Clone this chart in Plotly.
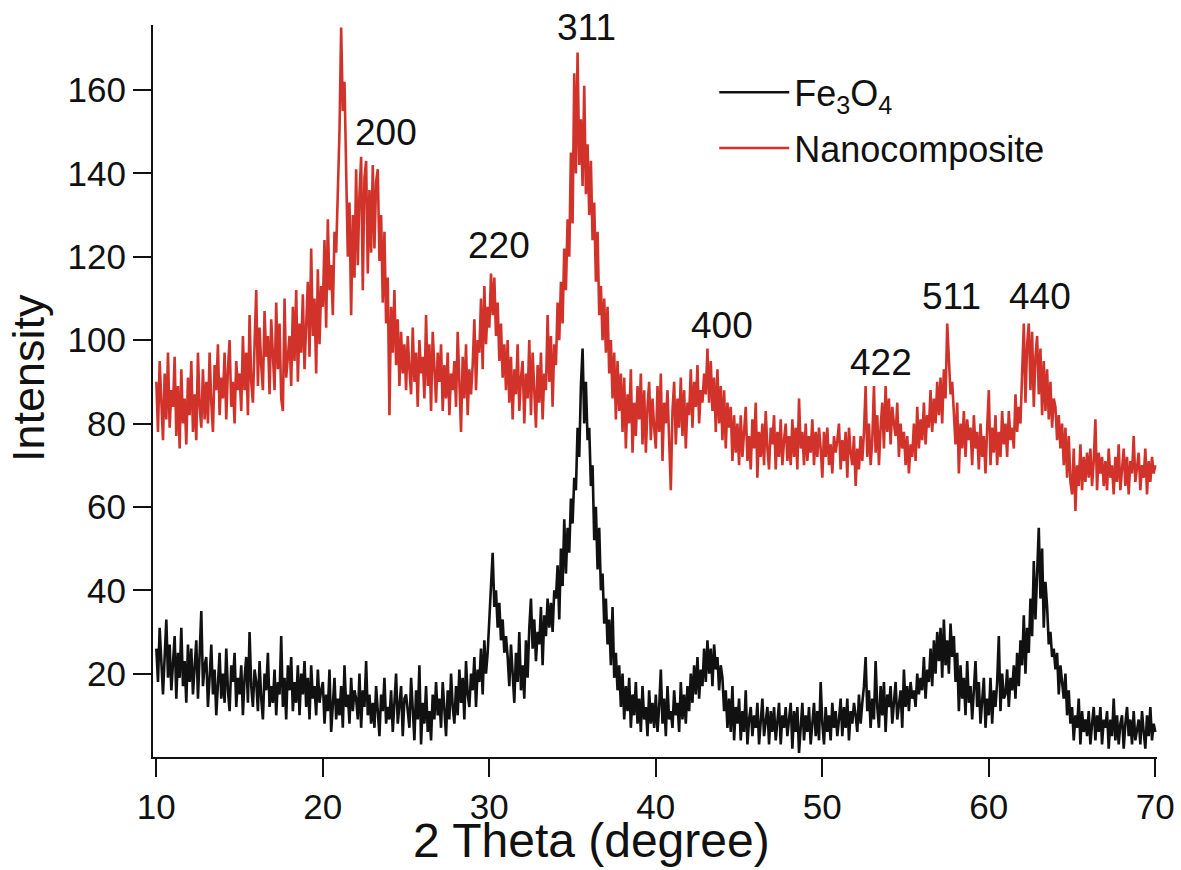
import numpy as np
import plotly.graph_objects as go

# 2-theta grid (degrees), 0.1 degree step from 10 to 70
two_theta = np.round(np.arange(100, 701) / 10.0, 1)

fe3o4 = [
    26,18,31,21,15,24,33,19,27,16,
    22,29,14,25,19,31,17,23,13,27,
    18,26,15,21,28,14,23,35,17,22,
    24,12,19,27,15,21,10,18,25,14,
    20,13,26,16,11,22,18,25,12,19,
    15,22,10,19,24,13,30,17,12,21,
    18,11,23,14,9,20,16,25,12,17,
    13,21,10,18,15,29,12,19,9,22,
    16,24,11,18,13,22,10,20,15,23,
    12,19,9,22,14,17,10,21,13,16,
    18,8,15,11,21,6,13,19,9,14,
    10,17,7,22,12,15,8,19,11,16,
    14,9,20,7,16,12,23,10,15,8,
    13,7,17,10,5,15,11,19,8,12,
    9,16,6,13,20,8,12,17,5,14,
    15,10,7,19,12,4,16,9,22,3,
    13,8,17,6,11,4,15,9,18,10,
    14,7,18,11,5,16,9,20,12,8,
    17,10,21,13,19,9,23,15,12,20,
    16,24,12,21,18,26,15,28,20,25,
    33,42,49,36,40,31,37,28,33,25,
    29,24,17,27,20,13,25,18,30,16,
    22,14,28,19,31,38,26,33,23,30,
    27,36,22,34,29,38,31,37,30,40,
    38,46,33,50,41,57,44,55,49,62,
    56,67,64,79,72,89,98,80,90,76,
    79,65,70,52,60,45,55,40,44,32,
    38,27,33,22,36,19,25,16,22,12,
    20,9,17,11,19,7,15,10,18,8,
    14,6,17,9,12,5,16,8,13,7,
    15,6,12,21,8,14,5,17,9,11,
    7,16,10,13,6,18,9,15,8,17,
    11,20,13,22,15,24,14,21,17,26,
    18,28,20,26,17,27,21,24,16,22,
    19,11,16,7,14,6,17,4,12,8,
    14,4,11,6,16,3,9,12,5,10,
    7,13,3,10,14,5,8,12,3,11,
    6,12,4,9,13,3,10,7,12,5,
    9,13,2,11,6,12,1,8,13,4,
    10,6,12,3,9,13,5,11,4,18,
    8,3,12,6,10,4,13,7,11,5,
    9,14,5,12,7,14,4,11,8,13,
    10,6,15,8,13,17,24,11,16,7,
    14,9,23,12,7,17,10,18,6,15,
    12,17,8,14,18,9,13,16,7,21,
    12,17,11,18,14,16,12,20,15,19,
    16,24,14,21,18,26,17,28,20,30,
    23,31,19,33,22,28,20,32,24,29,
    18,25,11,22,14,19,10,23,13,17,
    9,16,23,12,18,8,15,19,7,14,
    10,19,8,16,12,18,29,11,20,14,
    15,21,12,19,16,22,14,25,17,28,
    22,34,20,31,25,38,29,47,33,44,
    55,38,50,31,42,36,27,30,24,26,
    21,25,15,22,18,14,20,10,16,8,
    12,4,10,7,14,3,11,6,9,5,
    11,3,8,12,4,10,6,12,3,9,
    7,11,2,9,5,14,4,10,3,8,
    10,2,8,12,5,9,3,11,4,7,
    9,3,11,6,2,10,5,12,4,8,
    6,
]

nanocomposite = [
    90,78,95,83,76,92,81,97,79,88,
    84,96,77,89,74,93,80,86,75,91,
    82,95,78,87,76,97,84,79,93,81,
    90,80,97,85,78,94,88,99,82,91,
    86,97,81,93,100,84,90,80,95,88,
    92,83,101,88,97,82,106,90,85,99,
    112,89,103,94,88,107,96,101,87,105,
    98,88,109,93,104,86,83,110,91,97,
    101,89,108,95,112,90,104,97,111,93,
    105,114,96,122,101,110,92,117,99,113,
    108,124,103,129,112,118,106,126,121,133,
    150,175,155,162,137,120,133,106,130,115,
    141,118,135,144,112,139,143,116,136,121,
    142,122,138,141,119,130,109,126,104,115,
    82,108,97,112,94,105,89,102,92,99,
    88,101,93,87,103,90,97,84,100,92,
    96,86,106,89,99,83,102,91,85,97,
    90,99,83,94,86,97,82,92,88,95,
    84,102,89,78,96,86,99,82,93,87,
    94,105,88,100,97,110,93,113,99,108,
    103,116,106,115,101,109,95,104,91,99,
    88,100,85,96,81,93,87,99,83,91,
    95,80,92,86,100,82,97,88,79,94,
    85,97,81,92,88,106,90,101,84,99,
    94,109,100,114,104,122,112,129,120,145,
    128,164,140,169,142,153,137,161,135,147,
    130,143,124,133,114,126,106,113,100,110,
    97,108,92,100,86,97,81,95,83,92,
    78,91,74,87,80,93,73,85,77,89,
    81,92,75,88,73,84,90,76,86,79,
    74,89,78,92,71,85,80,88,73,64,
    83,90,75,86,79,91,77,88,74,85,
    82,93,79,90,84,94,80,88,85,92,
    87,98,85,95,83,91,78,93,80,89,
    76,88,74,85,79,84,71,82,73,80,
    70,82,72,79,84,71,77,69,81,74,
    85,67,78,72,80,70,83,74,69,79,
    75,82,69,78,72,81,70,76,80,71,
    77,70,81,72,79,69,86,74,78,70,
    80,71,77,73,81,70,78,72,79,74,
    67,78,72,79,70,75,68,77,73,76,
    80,69,76,71,78,67,79,73,70,77,
    65,74,69,77,71,78,89,72,80,70,
    76,89,73,82,70,79,85,74,89,78,
    86,75,84,80,77,85,72,80,74,78,
    70,77,68,75,72,80,71,84,74,81,
    76,85,75,82,79,88,78,86,80,90,
    82,91,80,93,86,104,95,87,90,83,
    75,85,68,80,74,83,72,81,76,79,
    70,82,74,78,69,80,72,77,68,79,
    88,70,79,73,82,70,78,72,83,75,
    80,72,83,76,79,74,87,78,84,80,
    93,104,85,99,104,88,102,84,96,101,
    87,98,82,95,83,93,81,90,79,86,
    84,76,82,74,80,70,79,67,77,66,
    63,74,59,70,65,75,64,72,66,73,
    67,74,65,71,81,64,73,68,72,65,
    71,64,74,67,70,63,72,66,75,64,
    69,74,65,72,63,71,68,77,66,70,
    73,64,70,67,74,63,71,66,72,68,
    70,
]

assert len(fe3o4) == len(two_theta) == len(nanocomposite)

# Miller index labels and their anchor positions (2-theta, intensity)
peak_labels = ["200", "220", "311", "400", "422", "511", "440"]
peak_x = [23.8, 30.6, 35.85, 44.0, 53.55, 57.75, 63.1]
peak_y = [149.7, 122.8, 175.0, 103.6, 94.6, 110.4, 110.4]

series_names = ["Fe<sub>3</sub>O<sub>4</sub>", "Nanocomposite"]
series_colors = ["#111111", "#d1332a"]

x_title = "2 Theta (degree)"
y_title = "Intensity"

FONT = "Liberation Sans, Arial, Helvetica, sans-serif"

fig = go.Figure()
for name, ys, col in zip(series_names, [fe3o4, nanocomposite], series_colors):
    fig.add_trace(go.Scatter(
        x=two_theta, y=ys, mode="lines", name=name,
        line=dict(color=col, width=2.6),
        legendgroup=name,
    ))

for lab, px, py in zip(peak_labels, peak_x, peak_y):
    fig.add_annotation(x=px, y=py, text=lab, showarrow=False,
                       font=dict(size=37, color="#111111", family=FONT),
                       xanchor="center", yanchor="middle")

# axis titles (placed as in the reference, off-centre)
fig.add_annotation(x=0.4363, y=-0.1145, xref="paper", yref="paper",
                   text=x_title, showarrow=False,
                   font=dict(size=48, color="#111111", family=FONT),
                   xanchor="center", yanchor="middle")
fig.add_annotation(x=-0.1235, y=0.5178, xref="paper", yref="paper",
                   text=y_title, showarrow=False, textangle=-90,
                   font=dict(size=45, color="#111111", family=FONT),
                   xanchor="center", yanchor="middle")

fig.update_layout(
    width=1181, height=870,
    paper_bgcolor="white", plot_bgcolor="white",
    margin=dict(l=153, r=24, t=25, b=113),
    font=dict(family=FONT, color="#111111"),
    showlegend=True,
    legend=dict(
        x=0.559, y=0.949, xanchor="left", yanchor="top",
        bgcolor="rgba(0,0,0,0)", borderwidth=0,
        font=dict(size=36, family=FONT, color="#111111"),
        itemwidth=70, traceorder="grouped", tracegroupgap=6,
    ),
    xaxis=dict(
        range=[9.8, 70.1], showgrid=False, zeroline=False,
        showline=True, linecolor="#111111", linewidth=2,
        ticks="outside", ticklen=18, tickwidth=2, tickcolor="#111111",
        tickvals=[10, 20, 30, 40, 50, 60, 70],
        tickfont=dict(size=35, family=FONT, color="#111111"),
        mirror=False, automargin=False,
    ),
    yaxis=dict(
        range=[0, 175.6], showgrid=False, zeroline=False,
        showline=True, linecolor="#111111", linewidth=2,
        ticks="outside", ticklen=18, tickwidth=2, tickcolor="#111111",
        tickvals=[20, 40, 60, 80, 100, 120, 140, 160],
        tickfont=dict(size=35, family=FONT, color="#111111"),
        mirror=False, automargin=False,
    ),
)

fig.write_html("out.html", config={"displayModeBar": False},
               post_script="document.body.style.margin='0';")
